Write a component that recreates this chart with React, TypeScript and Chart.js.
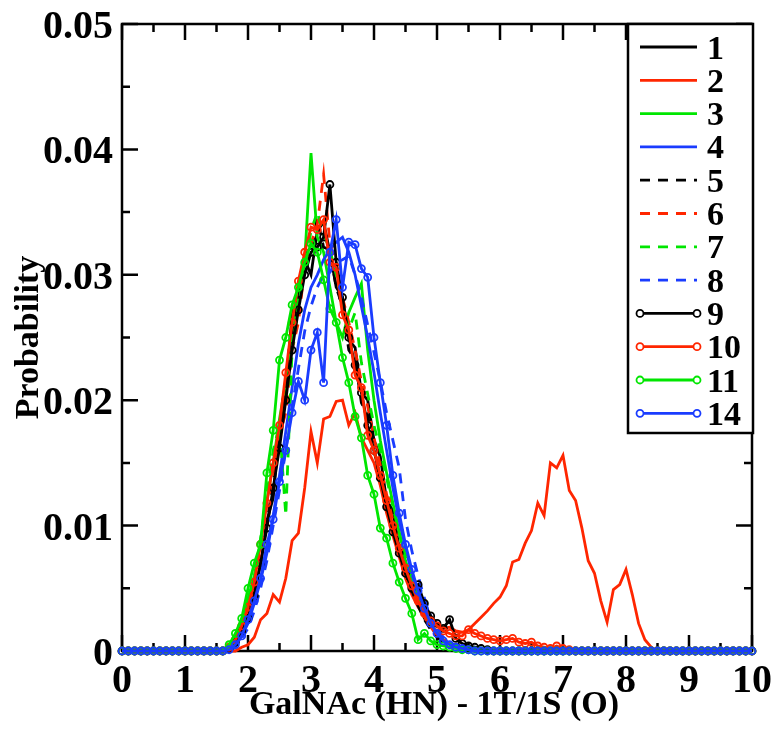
import React, { useEffect, useRef } from "react";
import { Chart, registerables } from "chart.js";

Chart.register(...registerables);

// Histogram bins: x = index * BIN_STEP (0 .. 10), values stored in units of 1e-4
const BIN_STEP = 0.1;
const VALUE_UNIT = 1e-4;

const X_TICKS = [0, 1, 2, 3, 4, 5, 6, 7, 8, 9, 10];
const X_MINOR = [0.5, 1.5, 2.5, 3.5, 4.5, 5.5, 6.5, 7.5, 8.5, 9.5];
const Y_TICKS = [0, 0.01, 0.02, 0.03, 0.04, 0.05];
const Y_TICK_LABELS = ["0", "0.01", "0.02", "0.03", "0.04", "0.05"];
const Y_MINOR = [0.005, 0.015, 0.025, 0.035, 0.045];

const X_TITLE = "GalNAc (HN) - 1T/1S (O)";
const Y_TITLE = "Probability";

const SERIES_NAMES = ["1", "2", "3", "4", "5", "6", "7", "8", "9", "10", "11", "14"];

const S1 = [
  0, 0, 0, 0, 0, 0, 0, 0, 0, 0,
  0, 0, 0, 0, 0, 0, 0, 2, 8, 18,
  30, 52, 68, 104, 122, 180, 205, 270, 280, 312,
  300, 335, 342, 318, 290, 282, 248, 242, 206, 200,
  168, 155, 120, 112, 82, 70, 48, 40, 26, 20,
  12, 8, 6, 4, 3, 2, 1, 0, 0, 0,
  0, 0, 0, 0, 0, 0, 0, 0, 0, 0,
  0, 0, 0, 0, 0, 0, 0, 0, 0, 0,
  0, 0, 0, 0, 0, 0, 0, 0, 0, 0,
  0, 0, 0, 0, 0, 0, 0, 0, 0, 0,
  0,
];
const S2 = [
  0, 0, 0, 0, 0, 0, 0, 0, 0, 0,
  0, 0, 0, 0, 0, 0, 0, 0, 0, 3,
  5, 11, 25, 30, 45, 39, 58, 88, 94, 130,
  175, 150, 185, 187, 199, 200, 180, 190, 170, 160,
  150, 132, 110, 92, 75, 58, 45, 35, 28, 24,
  20, 18, 19, 16, 15, 17, 22, 27, 32, 38,
  43, 52, 71, 73, 86, 96, 118, 108, 150, 146,
  156, 128, 120, 98, 72, 62, 40, 23, 49, 53,
  65, 45, 22, 9, 3, 0, 0, 0, 0, 0,
  0, 0, 0, 0, 0, 0, 0, 0, 0, 0,
  0,
];
const S3 = [
  0, 0, 0, 0, 0, 0, 0, 0, 0, 0,
  0, 0, 0, 0, 0, 0, 0, 4, 12, 25,
  42, 60, 88, 120, 150, 185, 215, 250, 282, 312,
  397, 330, 318, 290, 262, 250, 270, 282, 293, 240,
  200, 168, 142, 118, 95, 72, 56, 42, 30, 20,
  14, 9, 6, 4, 2, 1, 0, 0, 0, 0,
  0, 0, 0, 0, 0, 0, 0, 0, 0, 0,
  0, 0, 0, 0, 0, 0, 0, 0, 0, 0,
  0, 0, 0, 0, 0, 0, 0, 0, 0, 0,
  0, 0, 0, 0, 0, 0, 0, 0, 0, 0,
  0,
];
const S4 = [
  0, 0, 0, 0, 0, 0, 0, 0, 0, 0,
  0, 0, 0, 0, 0, 0, 0, 0, 4, 12,
  22, 38, 56, 78, 108, 140, 175, 210, 245, 272,
  290, 300, 312, 320, 326, 330, 318, 300, 275, 250,
  222, 190, 160, 130, 104, 82, 62, 45, 32, 22,
  14, 9, 6, 4, 2, 1, 0, 0, 0, 0,
  0, 0, 0, 0, 0, 0, 0, 0, 0, 0,
  0, 0, 0, 0, 0, 0, 0, 0, 0, 0,
  0, 0, 0, 0, 0, 0, 0, 0, 0, 0,
  0, 0, 0, 0, 0, 0, 0, 0, 0, 0,
  0,
];
const S5 = [
  0, 0, 0, 0, 0, 0, 0, 0, 0, 0,
  0, 0, 0, 0, 0, 0, 0, 1, 6, 15,
  28, 45, 70, 102, 135, 168, 205, 248, 280, 310,
  318, 345, 322, 320, 290, 275, 240, 232, 198, 188,
  160, 138, 118, 98, 80, 62, 48, 36, 25, 17,
  11, 7, 5, 3, 2, 1, 0, 0, 0, 0,
  0, 0, 0, 0, 0, 0, 0, 0, 0, 0,
  0, 0, 0, 0, 0, 0, 0, 0, 0, 0,
  0, 0, 0, 0, 0, 0, 0, 0, 0, 0,
  0, 0, 0, 0, 0, 0, 0, 0, 0, 0,
  0,
];
const S6 = [
  0, 0, 0, 0, 0, 0, 0, 0, 0, 0,
  0, 0, 0, 0, 0, 0, 0, 2, 7, 16,
  30, 55, 78, 118, 134, 172, 190, 240, 262, 306,
  325, 340, 380, 325, 305, 282, 262, 240, 215, 195,
  170, 148, 125, 104, 84, 66, 50, 38, 27, 19,
  13, 9, 6, 4, 3, 2, 1, 0, 0, 0,
  0, 0, 0, 0, 0, 0, 0, 0, 0, 0,
  0, 0, 0, 0, 0, 0, 0, 0, 0, 0,
  0, 0, 0, 0, 0, 0, 0, 0, 0, 0,
  0, 0, 0, 0, 0, 0, 0, 0, 0, 0,
  0,
];
const S7 = [
  0, 0, 0, 0, 0, 0, 0, 0, 0, 0,
  0, 0, 0, 0, 0, 0, 0, 3, 10, 22,
  38, 58, 90, 125, 160, 180, 108, 240, 275, 305,
  335, 350, 332, 320, 300, 278, 256, 270, 230, 205,
  180, 160, 138, 115, 94, 75, 58, 44, 32, 22,
  15, 10, 7, 4, 3, 2, 1, 0, 0, 0,
  0, 0, 0, 0, 0, 0, 0, 0, 0, 0,
  0, 0, 0, 0, 0, 0, 0, 0, 0, 0,
  0, 0, 0, 0, 0, 0, 0, 0, 0, 0,
  0, 0, 0, 0, 0, 0, 0, 0, 0, 0,
  0,
];
const S8 = [
  0, 0, 0, 0, 0, 0, 0, 0, 0, 0,
  0, 0, 0, 0, 0, 0, 0, 0, 3, 10,
  18, 32, 50, 72, 100, 128, 160, 195, 225, 255,
  275, 290, 300, 302, 310, 312, 315, 300, 282, 260,
  238, 215, 190, 168, 146, 105, 80, 60, 42, 28,
  18, 11, 7, 4, 2, 1, 0, 0, 0, 0,
  0, 0, 0, 0, 0, 0, 0, 0, 0, 0,
  0, 0, 0, 0, 0, 0, 0, 0, 0, 0,
  0, 0, 0, 0, 0, 0, 0, 0, 0, 0,
  0, 0, 0, 0, 0, 0, 0, 0, 0, 0,
  0,
];
const S9 = [
  0, 0, 0, 0, 0, 0, 0, 0, 0, 0,
  0, 0, 0, 0, 0, 0, 0, 2, 7, 16,
  26, 44, 70, 98, 130, 162, 200, 240, 272, 300,
  318, 322, 330, 372, 310, 282, 250, 228, 206, 180,
  160, 138, 115, 95, 78, 62, 50, 53, 38, 28,
  22, 18, 25, 10, 6, 4, 3, 2, 1, 0,
  0, 0, 0, 0, 0, 0, 0, 0, 0, 0,
  0, 0, 0, 0, 0, 0, 0, 0, 0, 0,
  0, 0, 0, 0, 0, 0, 0, 0, 0, 0,
  0, 0, 0, 0, 0, 0, 0, 0, 0, 0,
  0,
];
const S10 = [
  0, 0, 0, 0, 0, 0, 0, 0, 0, 0,
  0, 0, 0, 0, 0, 0, 0, 3, 9, 20,
  35, 55, 85, 118, 150, 180, 222, 262, 295, 318,
  338, 336, 344, 310, 306, 268, 256, 220, 210, 172,
  160, 140, 120, 100, 82, 66, 52, 40, 30, 24,
  20, 16, 14, 12, 12, 17, 14, 12, 10, 9,
  8, 9, 10, 7, 6, 7, 4, 3, 2, 4,
  2, 1, 0, 0, 0, 0, 0, 0, 0, 0,
  0, 0, 0, 0, 0, 0, 0, 0, 0, 0,
  0, 0, 0, 0, 0, 0, 0, 0, 0, 0,
  0,
];
const S11 = [
  0, 0, 0, 0, 0, 0, 0, 0, 0, 0,
  0, 0, 0, 0, 0, 0, 0, 5, 14, 26,
  50, 70, 85, 142, 176, 232, 250, 276, 290, 310,
  325, 318, 296, 273, 262, 234, 214, 187, 170, 140,
  125, 98, 90, 70, 55, 42, 30, 9, 14, 8,
  5, 4, 3, 2, 1, 1, 0, 0, 0, 0,
  0, 0, 0, 0, 0, 0, 0, 0, 0, 0,
  0, 0, 0, 0, 0, 0, 0, 0, 0, 0,
  0, 0, 0, 0, 0, 0, 0, 0, 0, 0,
  0, 0, 0, 0, 0, 0, 0, 0, 0, 0,
  0,
];
const S14 = [
  0, 0, 0, 0, 0, 0, 0, 0, 0, 0,
  0, 0, 0, 0, 0, 0, 0, 1, 5, 12,
  25, 40, 58, 85, 105, 135, 160, 190, 215, 200,
  240, 254, 214, 318, 344, 290, 326, 324, 305, 298,
  250, 214, 180, 140, 110, 85, 65, 48, 34, 22,
  14, 8, 5, 3, 2, 1, 0, 0, 0, 0,
  0, 0, 0, 0, 0, 0, 0, 0, 0, 0,
  0, 0, 0, 0, 0, 0, 0, 0, 0, 0,
  0, 0, 0, 0, 0, 0, 0, 0, 0, 0,
  0, 0, 0, 0, 0, 0, 0, 0, 0, 0,
  0,
];

const SERIES_VALUES = [S1, S2, S3, S4, S5, S6, S7, S8, S9, S10, S11, S14];

const BLACK = "#000000";
const RED = "#ff2600";
const GREEN = "#00e600";
const BLUE = "#1a3cff";
const SERIES_COLORS = [BLACK, RED, GREEN, BLUE, BLACK, RED, GREEN, BLUE, BLACK, RED, GREEN, BLUE];
const SERIES_DASHED = [false, false, false, false, true, true, true, true, false, false, false, false];
const SERIES_MARKER = [false, false, false, false, false, false, false, false, true, true, true, true];

const FONT = '"Liberation Serif", "Times New Roman", serif';
const DASH = [10, 8];

const gracePlugin = {
  id: "graceFrame",
  beforeDatasetsDraw(chart: any) {
    const { ctx, chartArea } = chart;
    const xs = chart.scales.x;
    const ys = chart.scales.y;
    const { left, right, top, bottom } = chartArea;
    ctx.save();
    ctx.strokeStyle = "#000";
    ctx.lineWidth = 2.5;
    ctx.setLineDash([]);
    ctx.strokeRect(left, top, right - left, bottom - top);
    const major = 16;
    const minor = 8;
    ctx.beginPath();
    X_TICKS.forEach((v) => {
      const px = xs.getPixelForValue(v);
      ctx.moveTo(px, bottom); ctx.lineTo(px, bottom - major);
      ctx.moveTo(px, top); ctx.lineTo(px, top + major);
    });
    X_MINOR.forEach((v) => {
      const px = xs.getPixelForValue(v);
      ctx.moveTo(px, bottom); ctx.lineTo(px, bottom - minor);
      ctx.moveTo(px, top); ctx.lineTo(px, top + minor);
    });
    Y_TICKS.forEach((v) => {
      const py = ys.getPixelForValue(v);
      ctx.moveTo(left, py); ctx.lineTo(left + major, py);
      ctx.moveTo(right, py); ctx.lineTo(right - major, py);
    });
    Y_MINOR.forEach((v) => {
      const py = ys.getPixelForValue(v);
      ctx.moveTo(left, py); ctx.lineTo(left + minor, py);
      ctx.moveTo(right, py); ctx.lineTo(right - minor, py);
    });
    ctx.stroke();
    ctx.restore();
  },
  afterDraw(chart: any) {
    const { ctx, chartArea } = chart;
    const xs = chart.scales.x;
    const ys = chart.scales.y;
    const { left, right, top, bottom } = chartArea;
    ctx.save();
    ctx.fillStyle = "#000";
    // tick labels
    ctx.font = `bold 40px ${FONT}`;
    ctx.textAlign = "center";
    ctx.textBaseline = "alphabetic";
    X_TICKS.forEach((v) => {
      ctx.fillText(String(v), xs.getPixelForValue(v), bottom + 41);
    });
    ctx.textAlign = "right";
    Y_TICKS.forEach((v, i) => {
      ctx.fillText(Y_TICK_LABELS[i], left - 9, ys.getPixelForValue(v) + 14);
    });
    // axis titles
    ctx.font = `bold 34px ${FONT}`;
    ctx.textAlign = "center";
    ctx.fillText(X_TITLE, (left + right) / 2 - 3, bottom + 63);
    ctx.save();
    ctx.translate(38, (top + bottom) / 2);
    ctx.rotate(-Math.PI / 2);
    ctx.fillText(Y_TITLE, 0, 0);
    ctx.restore();

    // legend
    const bx = 628, by = top, bw = 125, bh = 409;
    ctx.fillStyle = "#fff";
    ctx.fillRect(bx, by, bw, bh);
    ctx.strokeStyle = "#000";
    ctx.lineWidth = 2.5;
    ctx.strokeRect(bx, by, bw, bh);
    ctx.font = `bold 34px ${FONT}`;
    ctx.textAlign = "left";
    chart.data.datasets.forEach((ds: any, i: number) => {
      const y = by + 23 + i * 33.3;
      ctx.strokeStyle = ds.borderColor;
      ctx.lineWidth = 2.8;
      ctx.setLineDash(ds.borderDash || []);
      ctx.beginPath();
      ctx.moveTo(640, y);
      ctx.lineTo(697, y);
      ctx.stroke();
      ctx.setLineDash([]);
      if (ds.pointRadius > 0) {
        ctx.lineWidth = 1.8;
        [640, 697].forEach((cx) => {
          ctx.beginPath();
          ctx.arc(cx, y, 3.5, 0, Math.PI * 2);
          ctx.fillStyle = "#fff";
          ctx.fill();
          ctx.stroke();
        });
      }
      ctx.fillStyle = "#000";
      ctx.fillText(ds.label, 707, y + 11.5);
    });
    ctx.restore();
  },
};

export default function App() {
  const ref = useRef<HTMLCanvasElement | null>(null);
  useEffect(() => {
    if (!ref.current) return;
    const datasets = SERIES_VALUES.map((vals, i) => ({
      label: SERIES_NAMES[i],
      data: vals.map((v, k) => ({ x: k * BIN_STEP, y: v * VALUE_UNIT })),
      borderColor: SERIES_COLORS[i],
      backgroundColor: "rgba(0,0,0,0)",
      borderWidth: 2.8,
      borderDash: SERIES_DASHED[i] ? DASH : [],
      pointRadius: SERIES_MARKER[i] ? 3.5 : 0,
      pointBorderWidth: 1.8,
      pointBorderColor: SERIES_COLORS[i],
      pointBackgroundColor: "rgba(0,0,0,0)",
      tension: 0,
      fill: false,
      clip: false as any,
      order: -i,
    }));
    const chart = new Chart(ref.current, {
      type: "line",
      data: { datasets },
      options: {
        responsive: false,
        animation: false,
        events: [],
        layout: { padding: { left: 122, top: 24, right: 24, bottom: 79 } },
        scales: {
          x: { type: "linear", min: 0, max: 10, display: false },
          y: { type: "linear", min: 0, max: 0.05, display: false },
        },
        plugins: { legend: { display: false }, tooltip: { enabled: false } },
      },
      plugins: [gracePlugin],
    });
    return () => chart.destroy();
  }, []);
  return (
    <div style={{ position: "fixed", left: 0, top: 0, width: 776, height: 730, background: "#fff" }}>
      <canvas ref={ref} width={776} height={730} style={{ display: "block" }} />
    </div>
  );
}
